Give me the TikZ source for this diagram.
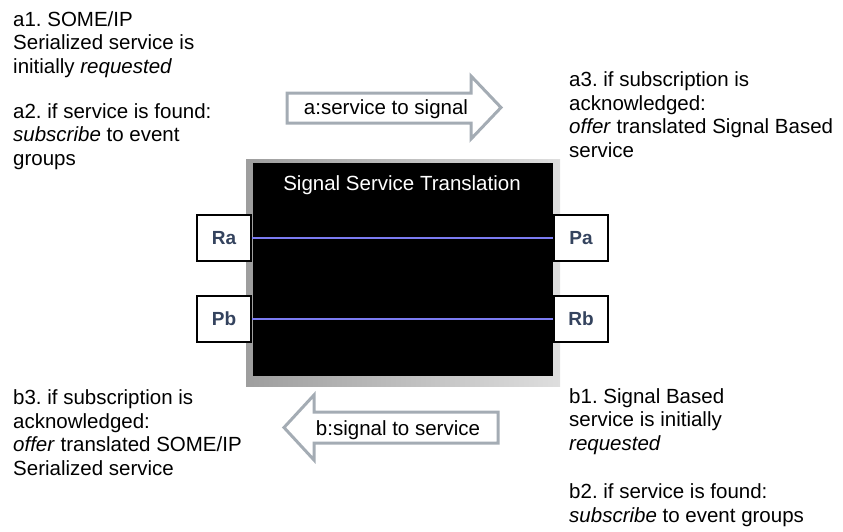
\documentclass[tikz,border=0pt]{standalone}
\usepackage{fontspec}
\setmainfont{Liberation Sans}
\usetikzlibrary{calc, positioning}
\frenchspacing
\definecolor{portblue}{HTML}{34435E}
\definecolor{linkblue}{HTML}{7C7CF2}
\definecolor{arrowgray}{HTML}{A4ACB4}
\definecolor{framedark}{HTML}{9E9E9E}
\definecolor{framelight}{HTML}{DEDEDE}

\begin{document}
\begin{tikzpicture}[x=1pt, y=-1pt,
  port/.style={draw, line width=2pt, fill=white, minimum width=54pt, minimum height=46pt,
    inner sep=0pt, text=portblue, font=\fontsize{19}{21}\selectfont\bfseries},
  note/.style={anchor=base west, align=left, inner sep=0pt, font=\fontsize{20.5}{23.5}\selectfont},
  link/.style={linkblue, line width=1.8pt},
  bigarrow/.style={draw=arrowgray, line width=3pt, fill=white, line join=miter}]
  \useasboundingbox (0,0) rectangle (843,531);
  % translation block with shaded frame
  \shade[left color=framedark, right color=framelight] (246,159) rectangle (560,386);
  \fill[black] (253,163) rectangle (553,376);
  \node[anchor=base, text=white, font=\fontsize{20.5}{24}\selectfont] (title) at (402,190) {Signal Service Translation};
  % ports
  \node[port] (Ra) at (224,238) {Ra};
  \node[port] (Pb) at (224,319) {Pb};
  \node[port] (Pa) at (581,238) {Pa};
  \node[port] (Rb) at (581,319) {Rb};
  \draw[link] (Ra.east) -- (Pa.west);
  \draw[link] (Pb.east) -- (Rb.west);
  % direction arrows
  \draw[bigarrow] (287,93) -- (471,93) -- (471,76) -- (501,107.5) -- (471,139) -- (471,123) -- (287,123) -- cycle;
  \node[anchor=base, font=\fontsize{20.5}{24}\selectfont] (s2s) at (386,114) {a:service to signal};
  \draw[bigarrow] (498,412) -- (314,412) -- (314,395) -- (284,427.5) -- (314,460) -- (314,443) -- (498,443) -- cycle;
  \node[anchor=base, font=\fontsize{20.5}{24}\selectfont] (sig2s) at (398,435) {b:signal to service};
  % notes (base = last line)
  \node[note] (a1) at (13,73) {a1. SOME/IP\\Serialized service is\\initially \textit{requested}};
  \node[note] (a2) at (13,165) {a2. if service is found:\\\textit{subscribe} to event\\groups};
  \node[note] (a3) at (569,157) {a3. if subscription is\\acknowledged:\\\textit{offer} translated Signal Based\\service};
  \node[note] (b1) at (569,450) {b1. Signal Based\\service is initially\\\textit{requested}};
  \node[note] (b2) at (569,522) {b2. if service is found:\\\textit{subscribe} to event groups};
  \node[note] (b3) at (13,475) {b3. if subscription is\\acknowledged:\\\textit{offer} translated SOME/IP\\Serialized service};
\end{tikzpicture}
\end{document}
